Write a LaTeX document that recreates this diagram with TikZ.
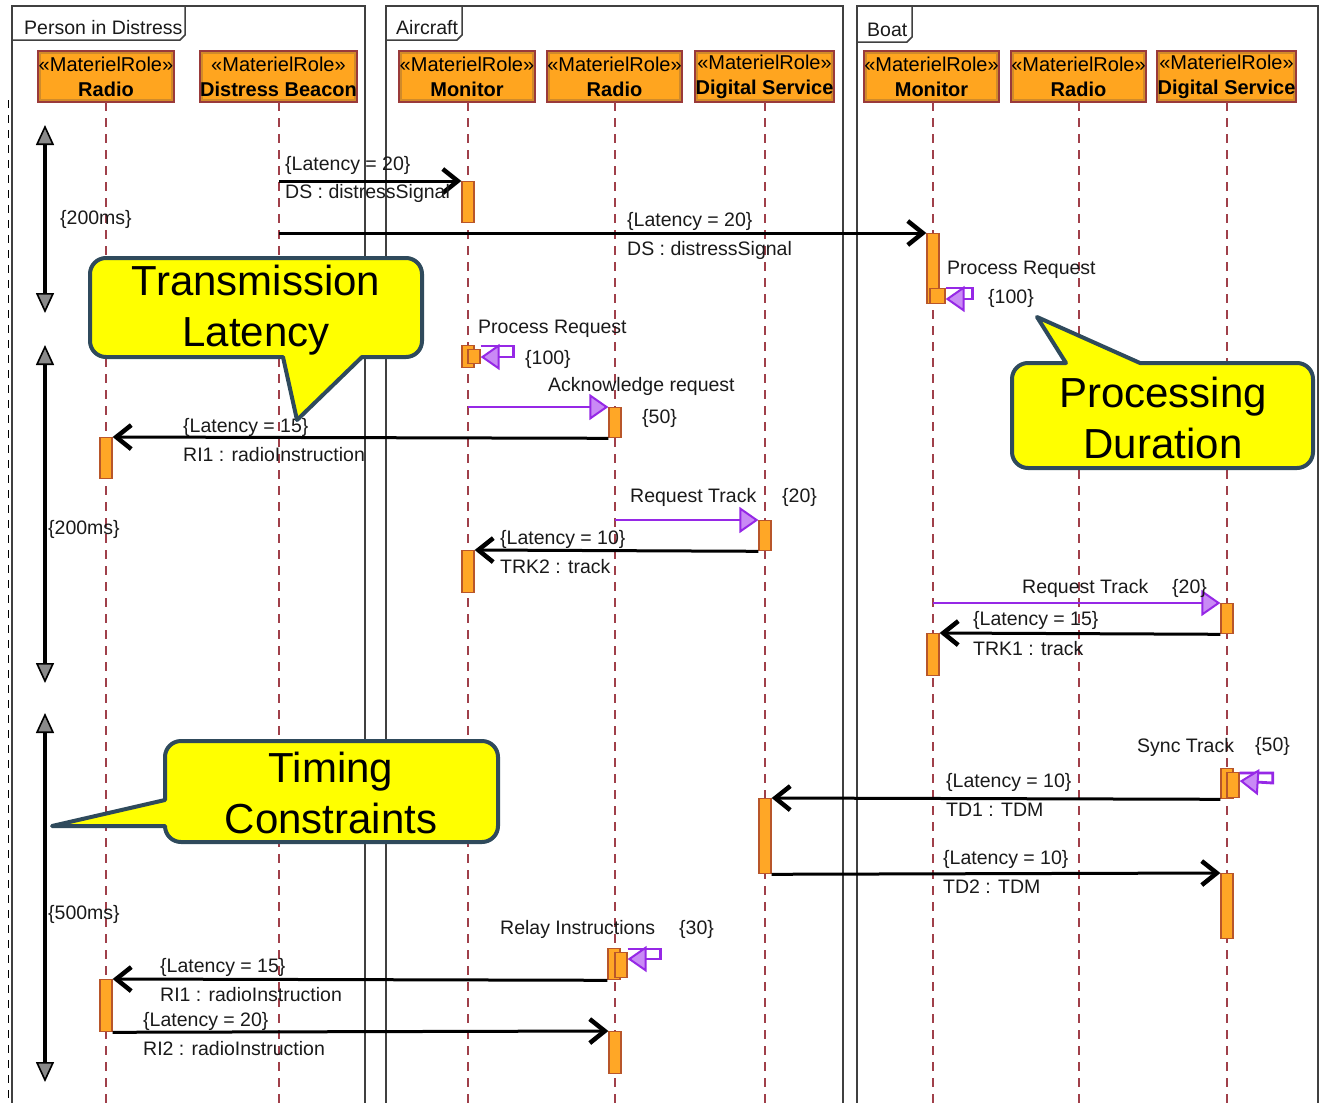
\documentclass[tikz,border=0pt]{standalone}
\usepackage{fontspec}
\setmainfont{Liberation Sans}
\usetikzlibrary{arrows.meta}
\definecolor{lifered}{HTML}{A0404A}
\definecolor{headborder}{HTML}{9A3A3A}
\definecolor{headfill}{HTML}{FFA51F}
\definecolor{headdark}{HTML}{D08A2A}
\definecolor{actfill}{HTML}{FFA726}
\definecolor{actdraw}{HTML}{B8562A}
\definecolor{msgpurple}{HTML}{9628E6}
\definecolor{purplefill}{HTML}{C98AF5}
\definecolor{framegray}{HTML}{404040}
\definecolor{notefill}{HTML}{FFFF00}
\definecolor{noteborder}{HTML}{2F4A5C}
\definecolor{tipgray}{HTML}{8A8A8A}
\definecolor{txt}{HTML}{1A1A1A}
\begin{document}
\begin{tikzpicture}[x=1pt,y=-1pt,
  font=\fontsize{19.5}{22}\selectfont,
  frame/.style={draw=framegray, line width=1.5pt},
  head/.style={draw=headborder, line width=1.6pt, fill=headdark, align=center,
    minimum height=51pt, inner sep=0pt, font=\fontsize{20}{25}\selectfont,
    path picture={\fill[headfill]
      ([shift={(3pt,3pt)}]path picture bounding box.south west) rectangle
      ([shift={(-3pt,-3pt)}]path picture bounding box.north east);}},
  lifeline/.style={draw=lifered, line width=1.5pt, dash pattern=on 9pt off 7pt},
  act/.style={draw=actdraw, line width=1.3pt, fill=actfill, minimum width=12pt,
    minimum height=#1, inner sep=0pt, anchor=north},
  msg/.style={draw=black, line width=3pt,
    -{Straight Barb[length=15pt,width=24pt,line width=4.5pt]}},
  pmsg/.style={draw=msgpurple, line width=2.8pt,
    -{Triangle[length=19pt,width=26pt,fill=purplefill,line width=2pt]}},
  timing/.style={draw=black, line width=3.8pt,
    {Triangle[length=20pt,width=18pt,fill=tipgray,line width=1.6pt]}-{Triangle[length=20pt,width=18pt,fill=tipgray,line width=1.6pt]}},
  lbl/.style={anchor=west, inner sep=0pt, text=txt, yshift=-2pt},
  callout/.style={draw=noteborder, line width=4pt, fill=notefill, line join=round},
  ctext/.style={align=center, font=\fontsize{42}{51}\selectfont, inner sep=0pt},
]
\useasboundingbox (0,0) rectangle (1320,1103);
\fill[white] (0,0) rectangle (1320,1103);

% frames with name tabs
\draw[frame] (12,1110) -- (12,6) -- (365,6) -- (365,1110);
\draw[frame] (12,40) -- (180,40) -- (185,35) -- (185,6);
\node[lbl] (fpd) at (24,26) {Person in Distress};
\draw[frame] (386,1110) -- (386,6) -- (843,6) -- (843,1110);
\draw[frame] (386,40) -- (457,40) -- (462,35) -- (462,6);
\node[lbl] (fac) at (396,26) {Aircraft};
\draw[frame] (857,1110) -- (857,6) -- (1318,6) -- (1318,1110);
\draw[frame] (857,42) -- (907,42) -- (912,37) -- (912,6);
\node[lbl] (fbt) at (867,28) {Boat};
\draw[black, line width=1pt, dash pattern=on 8pt off 7pt] (8,100) -- (8,1103);

% lifeline heads
\node[head, minimum width=136pt] (pdRadio) at (106,76.5) {«MaterielRole»\\\textbf{Radio}};
\node[head, minimum width=157pt] (beacon) at (278.5,76.5) {«MaterielRole»\\\textbf{Distress Beacon}};
\node[head, minimum width=136pt] (acMon) at (467,76.5) {«MaterielRole»\\\textbf{Monitor}};
\node[head, minimum width=135pt] (acRadio) at (614.5,76.5) {«MaterielRole»\\\textbf{Radio}};
\node[head, minimum width=139pt] (acDS) at (764.5,76.5) {«MaterielRole»\\\textbf{Digital Service}};
\node[head, minimum width=133pt] (bMon) at (931.5,76.5) {«MaterielRole»\\\textbf{Monitor}};
\node[head, minimum width=135pt] (bRadio) at (1078.5,76.5) {«MaterielRole»\\\textbf{Radio}};
\node[head, minimum width=139pt] (bDS) at (1226.5,76.5) {«MaterielRole»\\\textbf{Digital Service}};

% lifelines
\foreach \x in {106,279,468,615,765,933,1079,1227}
  \draw[lifeline] (\x,102) -- (\x,1103);

% timing constraints
\coordinate (t1a) at (45,125); \coordinate (t1b) at (45,313);
\coordinate (t2a) at (45,345); \coordinate (t2b) at (45,683);
\coordinate (t3a) at (45,713); \coordinate (t3b) at (45,1082);
\draw[timing] (t1a) -- (t1b);
\draw[timing] (t2a) -- (t2b);
\draw[timing] (t3a) -- (t3b);
\node[lbl] (d1) at (60,217) {\{200ms\}};
\node[lbl] (d2) at (48,527) {\{200ms\}};
\node[lbl] (d3) at (48,912) {\{500ms\}};

% activations
\node[act=41pt] (a1) at (468,181) {};
\node[act=70pt] (a2) at (933,233) {};
\node[act=15pt, minimum width=15pt] (a2i) at (937.5,288) {};
\node[act=22pt] (a3) at (468,345) {};
\node[act=14pt] (a3i) at (474,349) {};
\node[act=30pt] (a5) at (615,407) {};
\node[act=41pt] (a6) at (106,437) {};
\node[act=30pt] (a7) at (765,520) {};
\node[act=42pt] (a8) at (468,550) {};
\node[act=30pt] (a9) at (1227,603) {};
\node[act=42pt] (a10) at (933,633) {};
\node[act=30pt] (a11) at (1227,768) {};
\node[act=25pt] (a11i) at (1233,772) {};
\node[act=75pt] (a12) at (765,798) {};
\node[act=65pt] (a13) at (1227,873) {};
\node[act=31pt] (a14) at (614,948) {};
\node[act=25pt] (a14i) at (621,952) {};
\node[act=52pt] (a15) at (106,979) {};
\node[act=42pt] (a16) at (615,1031) {};

% messages
\coordinate (s1) at (279,181);
\draw[msg] (s1) -- (a1.north west);
\node[lbl] (l1a) at (285,163) {\{Latency = 20\}};
\node[lbl] (l1b) at (285,191) {DS : distressSignal};

\coordinate (s2) at (279,233);
\draw[msg] (s2) -- (a2.north west);
\node[lbl] (l2a) at (627,219) {\{Latency = 20\}};
\node[lbl] (l2b) at (627,248) {DS : distressSignal};

\draw[pmsg] (a2i.north east) -- ++(27,0) -- ++(0,11) -- ([yshift=-11pt]a2i.north east);
\node[lbl] (l3a) at (947,268) {Process Request};
\node[lbl] (l3b) at (988,296) {\{100\}};

\draw[pmsg] ([yshift=3pt]a3i.north east) -- ++(33,0) -- ++(0,11) -- ([yshift=-8pt]a3i.north east);
\node[lbl] (l4a) at (478,327) {Process Request};
\node[lbl] (l4b) at (525,357) {\{100\}};

\coordinate (s5) at (468,407);
\draw[pmsg] (s5) -- (a5.north west);
\node[lbl] (l5a) at (548,384) {Acknowledge request};
\node[lbl] (l5b) at (642,416) {\{50\}};

\draw[msg] (a5.south west) -- (a6.north east);
\node[lbl] (l6a) at (183,425) {\{Latency = 15\}};
\node[lbl] (l6b) at (183,453) {RI1 : radioInstruction};

\coordinate (s7) at (615,520);
\draw[pmsg] (s7) -- (a7.north west);
\node[lbl] (l7a) at (630,495) {Request Track};
\node[lbl] (l7b) at (782,495) {\{20\}};

\draw[msg] (a7.south west) -- (a8.north east);
\node[lbl] (l8a) at (500,537) {\{Latency = 10\}};
\node[lbl] (l8b) at (500,565) {TRK2 : track};

\coordinate (s9) at (933,603);
\draw[pmsg] (s9) -- (a9.north west);
\node[lbl] (l9a) at (1022,586) {Request Track};
\node[lbl] (l9b) at (1172,586) {\{20\}};

\draw[msg] (a9.south west) -- (a10.north east);
\node[lbl] (l10a) at (973,618) {\{Latency = 15\}};
\node[lbl] (l10b) at (973,647) {TRK1 : track};

\draw[pmsg] ([yshift=-1pt]a11i.north east) -- ++(33,0) -- ++(0,10) -- ([yshift=-9pt]a11i.north east);
\node[lbl] (l11a) at (1137,745) {Sync Track};
\node[lbl] (l11b) at (1255,744) {\{50\}};

\draw[msg] (a11.south west) -- (a12.north east);
\node[lbl] (l12a) at (946,780) {\{Latency = 10\}};
\node[lbl] (l12b) at (946,808) {TD1 : TDM};

\draw[msg] (a12.south east) -- (a13.north west);
\node[lbl] (l13a) at (943,857) {\{Latency = 10\}};
\node[lbl] (l13b) at (943,885) {TD2 : TDM};

\draw[pmsg] ([yshift=3pt]a14i.north east) -- ++(33,0) -- ++(0,10) -- ([yshift=-7pt]a14i.north east);
\node[lbl] (l14a) at (500,927) {Relay Instructions};
\node[lbl] (l14b) at (679,927) {\{30\}};

\draw[msg] (a14.south west) -- (a15.north east);
\node[lbl] (l15a) at (160,965) {\{Latency = 15\}};
\node[lbl] (l15b) at (160,993) {RI1 : radioInstruction};

\draw[msg] (a15.south east) -- (a16.north west);
\node[lbl] (l16a) at (143,1019) {\{Latency = 20\}};
\node[lbl] (l16b) at (143,1047) {RI2 : radioInstruction};

% callouts
\draw[callout] (256,258) [rounded corners=16pt] -- (422,258) -- (422,357)
  [sharp corners] -- (362,357) -- (297,420) -- (283,357)
  [rounded corners=16pt] -- (90,357) -- (90,258) -- cycle;
\node[ctext] (c1) at (256,310) {Transmission\\Latency};

\draw[callout] (1163,363) -- (1140,363) -- (1037,317) -- (1066,363)
  [rounded corners=16pt] -- (1012,363) -- (1012,468) -- (1313,468) -- (1313,363) -- cycle;
\node[ctext] (c2) at (1163,418) {Processing\\Duration};

\draw[callout] (331,741) [rounded corners=16pt] -- (165,741)
  [sharp corners] -- (165,800) -- (52,826) -- (165,826)
  [rounded corners=16pt] -- (165,842) -- (498,842) -- (498,741) -- cycle;
\node[ctext] (c3) at (331,793) {Timing\\Constraints};
\end{tikzpicture}
\end{document}
